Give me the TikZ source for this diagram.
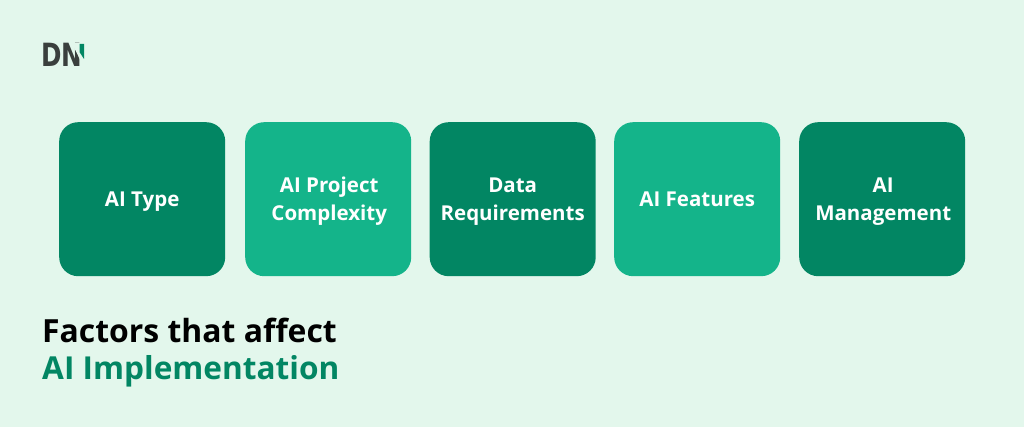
\documentclass[tikz,border=0pt]{standalone}
\usepackage{fontspec}
\setmainfont{Open Sans}
\newfontfamily\logofont{DejaVu Sans}
\definecolor{bgmint}{HTML}{E3F7EC}
\definecolor{darkgreen}{HTML}{028663}
\definecolor{lightgreen}{HTML}{14B48A}
\definecolor{logogray}{HTML}{3A3F3D}
\tikzset{
  card/.style={rounded corners=19pt,minimum width=166pt,minimum height=154pt,inner sep=0pt,anchor=north west},
  carddark/.style={card,fill=darkgreen},
  cardlight/.style={card,fill=lightgreen},
  label/.style={text=white,align=center,inner sep=0pt,font=\fontsize{20.5}{28}\selectfont\bfseries},
  headline/.style={anchor=base west,inner sep=0pt,font=\fontsize{31.9}{36}\selectfont\bfseries}
}
\begin{document}
\begin{tikzpicture}[x=1pt,y=-1pt]
\useasboundingbox (0,0) rectangle (1024,427);
\fill[bgmint] (0,0) rectangle (1024,427);
\node[carddark] (a) at (59,122) {};
\node[cardlight] (b) at (245,122) {};
\node[carddark] (c) at (429.5,122) {};
\node[cardlight] (d) at (614,122) {};
\node[carddark] (e) at (799,122) {};
\node[label,yshift=-2.5pt] at (a) {AI Type};
\node[label,yshift=-2pt,xshift=1pt] at (b) {AI Project\\Complexity};
\node[label,yshift=-2pt] at (c) {Data\\Requirements};
\node[label] at (d) {AI Features};
\node[label,yshift=-2pt,xshift=1pt] at (e) {AI\\Management};
\node[headline,text=black] (t1) at (42,342) {Factors that affect};
\node[headline,text=darkgreen,font=\fontsize{31.6}{36}\selectfont\bfseries] (t2) at (42,379) {AI Implementation};
\node[anchor=base west,inner sep=0pt,text=logogray,xscale=0.77,font=\fontsize{32}{32}\selectfont\logofont\bfseries] (logo) at (41,67) {DN};
\fill[bgmint] (72,43) -- (85.5,43) -- (85.5,68) -- (84,68) -- cycle;
\fill[darkgreen] (79.5,44) -- (84,44) -- (84,59) -- (79.5,52) -- cycle;
\end{tikzpicture}
\end{document}
